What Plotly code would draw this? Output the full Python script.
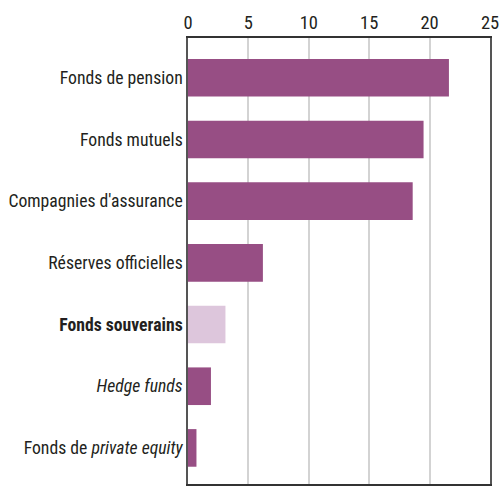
import plotly.graph_objects as go

categories = ["Fonds de pension", "Fonds mutuels", "Compagnies d'assurance",
              "Réserves officielles", "Fonds souverains", "Hedge funds",
              "Fonds de private equity"]
labels = ["Fonds de pension", "Fonds mutuels", "Compagnies d'assurance",
          "Réserves officielles", "<b>Fonds souverains</b>", "<i>Hedge funds</i>",
          "Fonds de <i>private equity</i>"]
values = [21.6, 19.5, 18.6, 6.2, 3.1, 1.9, 0.7]
colors = ["#974E84", "#974E84", "#974E84", "#974E84", "#DDC6DC", "#974E84", "#974E84"]
xticks = [0, 5, 10, 15, 20, 25]

fig = go.Figure(go.Bar(
    x=values, y=categories, orientation="h",
    marker=dict(color=colors, line=dict(width=0)),
    width=0.61,
))

font_family = "Liberation Sans Narrow, Arial Narrow, Roboto Condensed, sans-serif"
fig.update_layout(
    width=500, height=486,
    margin=dict(l=188, r=10, t=38, b=0),
    paper_bgcolor="white", plot_bgcolor="white",
    showlegend=False,
    font=dict(family=font_family, size=17.7, color="#231F20"),
    xaxis=dict(
        side="top", range=[0, 25], tickvals=xticks,
        showgrid=True, gridcolor="#D3D3D3", gridwidth=1.5,
        showline=True, mirror=True, linecolor="#333333", linewidth=1.5,
        ticks="", ticklen=0, zeroline=False,
        tickfont=dict(size=18.5),
    ),
    yaxis=dict(
        type="category", categoryorder="array", categoryarray=categories,
        range=[6.585, -0.645],
        tickvals=categories, ticktext=labels,
        showline=True, mirror=True, linecolor="#555555", linewidth=1.5,
        ticks="", showgrid=False,
        tickfont=dict(size=17.7),
    ),
)

fig.write_html("out.html")
